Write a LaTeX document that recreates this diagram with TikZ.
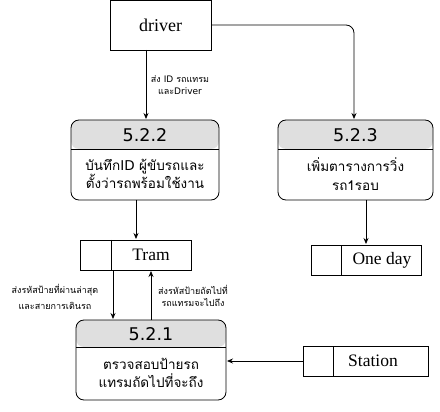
\documentclass[tikz,border=0pt]{standalone}
\usepackage{fontspec}
\setmainfont{Liberation Serif}
\newfontfamily\thaifont[Script=Thai]{Loma}
\newfontfamily\hdfont{DejaVu Sans}
\newcommand\latn[1]{{\hdfont #1}}
\usetikzlibrary{arrows.meta}
\begin{document}
\begin{tikzpicture}[x=1pt,y=-1pt,
  line width=0.8pt,
  arr/.style={-{Stealth[length=6pt,width=5pt]}},
  proc/.style={draw,rounded corners=8pt},
  lbl/.style={font=\thaifont\fontsize{9}{12.5}\selectfont,align=center,inner sep=1pt},
  hd/.style={font=\hdfont\fontsize{17.5}{20}\selectfont},
  body/.style={font=\thaifont\fontsize{13.5}{18.5}\selectfont,align=center},
  store/.style={font=\fontsize{17.5}{20}\selectfont}]
\useasboundingbox (0,0) rectangle (440,412);
% driver
\node[draw,minimum width=101pt,minimum height=50pt,inner sep=0pt,font=\fontsize{18}{20}\selectfont] (drv) at (160.5,25.5) {driver};
% process 5.2.2
\fill[gray!25,rounded corners=8pt] (71,149) -- (71,120) -- (219,120) -- (219,149) -- cycle;
\draw[proc] (71,120) rectangle (219,200);
\draw (71,149) -- (219,149);
\node[hd] (h2) at (145,135) {5.2.2};
\node[body] (b2) at (145,174) {บันทึก\latn{ID} ผู้ขับรถและ\\ตั้งว่ารถพร้อมใช้งาน};
% process 5.2.3
\fill[gray!25,rounded corners=8pt] (278,149) -- (278,120) -- (433,120) -- (433,149) -- cycle;
\draw[proc] (278,120) rectangle (433,200);
\draw (278,149) -- (433,149);
\node[hd] (h3) at (355.5,135) {5.2.3};
\node[body] (b3) at (355.5,174) {เพิ่มตารางการวิ่ง\\รถ1รอบ};
% process 5.2.1
\fill[gray!25,rounded corners=8pt] (76,347) -- (76,320) -- (226,320) -- (226,347) -- cycle;
\draw[proc] (76,320) rectangle (226,400);
\draw (76,347) -- (226,347);
\node[hd] (h1) at (151,334) {5.2.1};
\node[body] (b1) at (151,373) {ตรวจสอบป้ายรถ\\แทรมถัดไปที่จะถึง};
% stores
\draw (80,240) rectangle (191,270); \draw (111,240) -- (111,270);
\node[store] (tram) at (151,255) {Tram};
\draw (311,245) rectangle (421,275); \draw (341,245) -- (341,275);
\node[store] (oneday) at (382,260) {One day};
\draw (303,346) rectangle (428,376); \draw (333,346) -- (333,376);
\node[store] (station) at (373,361) {Station};
% connectors
\draw[arr] (146,50) -- (146,119);
\node[lbl] at (180,85) {ส่ง \latn{ID} รถแทรม\\และ\latn{Driver}};
\draw[arr,rounded corners=8pt] (211,25) -- (354,25) -- (354,119);
\draw[arr] (136,200) -- (136,239);
\draw[arr] (366,200) -- (366,244);
\draw[arr] (113,270) -- (113,319);
\draw[arr] (151,320) -- (151,271);
\node[lbl,align=center] at (55,297) {ส่งรหัสป้ายที่ผ่านล่าสุด\\[3.5pt]และสายการเดินรถ};
\node[lbl] at (193,296) {ส่งรหัสป้ายถัดไปที่\\รถแทรมจะไปถึง};
\draw[arr] (303,361) -- (227,361);
\end{tikzpicture}
\end{document}
